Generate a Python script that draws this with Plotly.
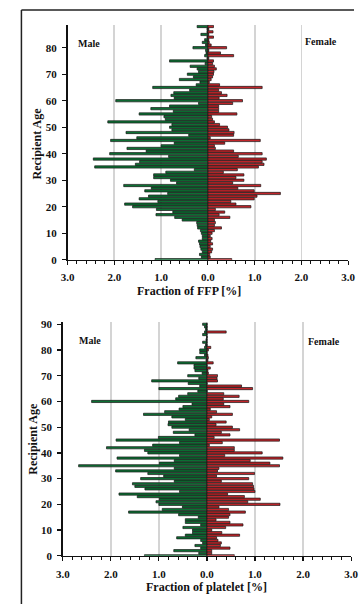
import plotly.graph_objects as go

W, H = 361, 610

# ---------------- data (ages 0..88 for FFP, 0..90 for platelet) ----------------
ffp_ages = list(range(0, 89))
ffp_male = [1.13, 0.14, 0.18, 0.12, 0.15, 0.17, 0.18, 0.20, 0.12, 0.12,
            0.14, 0.16, 0.22, 0.23, 0.24, 0.55, 0.71, 1.11, 0.75, 1.10,
            1.61, 1.78, 1.07, 1.47, 1.27, 0.86, 1.35, 1.21, 1.80, 0.67,
            0.80, 1.16, 1.16, 0.90, 0.29, 2.42, 1.55, 1.46, 2.45, 0.84,
            2.10, 1.32, 1.73, 1.00, 0.72, 2.08, 1.52, 0.41, 1.75, 0.77,
            0.82, 0.77, 2.14, 0.91, 0.94, 1.47, 0.74, 1.22, 0.82, 0.20,
            1.97, 0.72, 0.79, 0.73, 0.39, 1.18, 0.25, 0.17, 0.61, 0.31,
            0.44, 0.20, 0.23, 0.38, 0.06, 0.82, 0.02, 0.07, 0.04, 0.05,
            0.32, 0.05, 0.12, 0.07, 0.02, 0.15, 0.02, 0.02, 0.23]
ffp_female = [0.51, 0.05, 0.04, 0.08, 0.10, 0.05, 0.10, 0.06, 0.09, 0.05,
              0.09, 0.14, 0.29, 0.14, 0.16, 0.14, 0.47, 0.24, 0.36, 0.16,
              0.92, 0.60, 0.49, 0.99, 1.05, 1.55, 0.99, 0.64, 1.13, 0.53,
              0.77, 0.60, 0.77, 0.33, 0.63, 1.08, 1.20, 1.16, 1.25, 0.65,
              1.16, 0.55, 0.16, 0.14, 0.36, 1.12, 0.05, 0.55, 0.56, 0.45,
              0.42, 0.25, 0.14, 0.10, 0.08, 0.62, 0.23, 0.23, 0.23, 0.53,
              0.74, 0.24, 0.41, 0.29, 0.23, 1.16, 0.25, 0.03, 0.07, 0.10,
              0.12, 0.13, 0.18, 0.14, 0.10, 0.12, 0.02, 0.55, 0.27, 0.02,
              0.40, 0.07, 0.03, 0.02, 0.12, 0.02, 0.11, 0.02, 0.12]

plt_ages = list(range(0, 91))
plt_male = [1.30, 0.17, 0.69, 0.13, 0.25, 0.09, 0.13, 0.63, 0.45, 0.30,
            0.30, 0.50, 0.13, 0.45, 0.45, 0.18, 0.59, 1.63, 0.93, 0.51,
            1.00, 1.06, 0.99, 1.45, 1.83, 0.57, 1.29, 1.50, 1.55, 0.68,
            1.38, 0.90, 1.23, 1.90, 0.68, 2.67, 0.99, 0.68, 1.87, 0.57,
            1.23, 1.30, 2.09, 1.13, 0.57, 1.89, 1.01, 0.25, 0.70, 0.37,
            0.73, 0.81, 0.80, 0.45, 0.73, 1.32, 0.88, 0.58, 0.50, 0.31,
            2.40, 0.65, 0.59, 0.40, 0.19, 1.00, 0.15, 0.39, 1.15, 0.17,
            0.40, 0.10, 0.25, 0.27, 0.27, 0.61, 0.02, 0.23, 0.05, 0.15,
            0.15, 0.05, 0.03, 0.09, 0.02, 0.00, 0.09, 0.05, 0.03, 0.05,
            0.09]
plt_female = [0.57, 0.10, 0.10, 0.48, 0.28, 0.30, 0.23, 0.20, 0.68, 0.31,
              0.10, 0.39, 0.75, 0.48, 0.19, 0.45, 0.48, 0.80, 0.45, 0.25,
              1.52, 0.85, 1.11, 0.78, 0.43, 1.00, 0.98, 0.97, 0.95, 0.30,
              0.87, 0.20, 0.99, 0.22, 0.25, 1.51, 1.31, 0.90, 1.58, 0.37,
              1.15, 0.57, 0.57, 0.05, 0.32, 1.51, 0.15, 0.48, 0.30, 0.68,
              0.53, 0.19, 0.40, 0.05, 0.10, 0.53, 0.20, 0.07, 0.48, 0.35,
              0.87, 0.34, 0.67, 0.35, 0.00, 0.95, 0.72, 0.00, 0.22, 0.21,
              0.22, 0.03, 0.02, 0.07, 0.00, 0.13, 0.02, 0.03, 0.02, 0.00,
              0.03, 0.08, 0.00, 0.00, 0.00, 0.00, 0.00, 0.40, 0.00, 0.00,
              0.00]

x_tickvals = [-3, -2, -1, 0, 1, 2, 3]
x_ticktext = ["3.0", "2.0", "1.0", "0.0", "1.0", "2.0", "3.0"]
ffp_yticks = list(range(0, 81, 10))
plt_yticks = list(range(0, 91, 10))

GREEN = "#0c7033"
RED = "#c2252a"
EDGE = "#151515"
FONT = "Liberation Serif"


def px_x(p):
    return p / W


def px_y(p):
    return 1 - p / H


fig = go.Figure()

for ages, male, female, xa, ya in [(ffp_ages, ffp_male, ffp_female, "x", "y"),
                                   (plt_ages, plt_male, plt_female, "x2", "y2")]:
    fig.add_trace(go.Bar(y=ages, x=[-v for v in male], orientation="h",
                         marker=dict(color=GREEN, line=dict(color=EDGE, width=0.7)),
                         width=0.85, xaxis=xa, yaxis=ya, showlegend=False,
                         hoverinfo="skip"))
    fig.add_trace(go.Bar(y=ages, x=female, orientation="h",
                         marker=dict(color=RED, line=dict(color=EDGE, width=0.7)),
                         width=0.85, xaxis=xa, yaxis=ya, showlegend=False,
                         hoverinfo="skip"))

tickfont = dict(family=FONT, size=11, color="#111", weight="bold")

xcommon = dict(range=[-3, 3], tickvals=x_tickvals, ticktext=x_ticktext,
               showline=True, linecolor="#111", linewidth=1.5,
               ticks="outside", ticklen=4, tickwidth=1.2, tickcolor="#111",
               minor=dict(dtick=0.2, tick0=0, ticks="outside", ticklen=3,
                          tickwidth=1, tickcolor="#111", showgrid=False),
               showgrid=True, gridcolor="#d4d4d4", gridwidth=1.8,
               zeroline=False, tickfont=tickfont, ticklabelstandoff=3,
               ticklabeloverflow="allow", fixedrange=True)
ycommon = dict(showline=True, linecolor="#111", linewidth=1.5,
               ticks="outside", ticklen=4, tickwidth=1.2, tickcolor="#111",
               showgrid=False, zeroline=False, tickfont=tickfont,
               ticklabelstandoff=3, fixedrange=True)

fig.update_layout(
    width=W, height=H,
    margin=dict(l=0, r=0, t=0, b=0),
    paper_bgcolor="white", plot_bgcolor="white",
    barmode="overlay", bargap=0,
    xaxis=dict(domain=[px_x(63), px_x(355)], anchor="y", **xcommon),
    yaxis=dict(domain=[px_y(260), px_y(21)], anchor="x", range=[0, 88.7],
               tickvals=ffp_yticks, **ycommon),
    xaxis2=dict(domain=[px_x(58), px_x(358)], anchor="y2", **xcommon),
    yaxis2=dict(domain=[px_y(561), px_y(323)], anchor="x2", range=[0, 91],
                tickvals=plt_yticks, **ycommon),
)

ann_font = dict(family=FONT, size=10, color="#111", weight="bold")
title_font = dict(family=FONT, size=12, color="#111", weight="bold")
ytitle_font = dict(family=FONT, size=12, color="#111", weight="bold")
annots = [
    dict(text="Male", x=px_x(72), y=px_y(40), xanchor="left", font=ann_font),
    dict(text="Female", x=px_x(308), y=px_y(38), xanchor="left", font=ann_font),
    dict(text="Male", x=px_x(73), y=px_y(342), xanchor="left", font=ann_font),
    dict(text="Female", x=px_x(311), y=px_y(343), xanchor="left", font=ann_font),
    dict(text="Recipient Age", x=px_x(31), y=px_y(142), textangle=-90, font=ytitle_font),
    dict(text="Recipient Age", x=px_x(27), y=px_y(442), textangle=-90, font=ytitle_font),
    dict(text="Fraction of FFP [%]", x=px_x(189), y=px_y(292), font=title_font),
    dict(text="Fraction of platelet [%]", x=px_x(208), y=px_y(593), font=title_font),
]
for a in annots:
    a.update(xref="paper", yref="paper", showarrow=False, yanchor="middle")
    a.setdefault("xanchor", "center")
fig.update_layout(annotations=annots)

# outer frame (left and top edges)
fig.add_shape(type="line", xref="paper", yref="paper",
              x0=px_x(15), y0=px_y(6), x1=1.0, y1=px_y(6),
              line=dict(color="#222", width=1.5))
fig.add_shape(type="line", xref="paper", yref="paper",
              x0=px_x(15), y0=px_y(6), x1=px_x(15), y1=0,
              line=dict(color="#222", width=1.5))

fig.write_html("out.html", config={"displayModeBar": False, "staticPlot": True},
               post_script="document.body.style.margin='0';document.body.style.overflow='hidden';")
